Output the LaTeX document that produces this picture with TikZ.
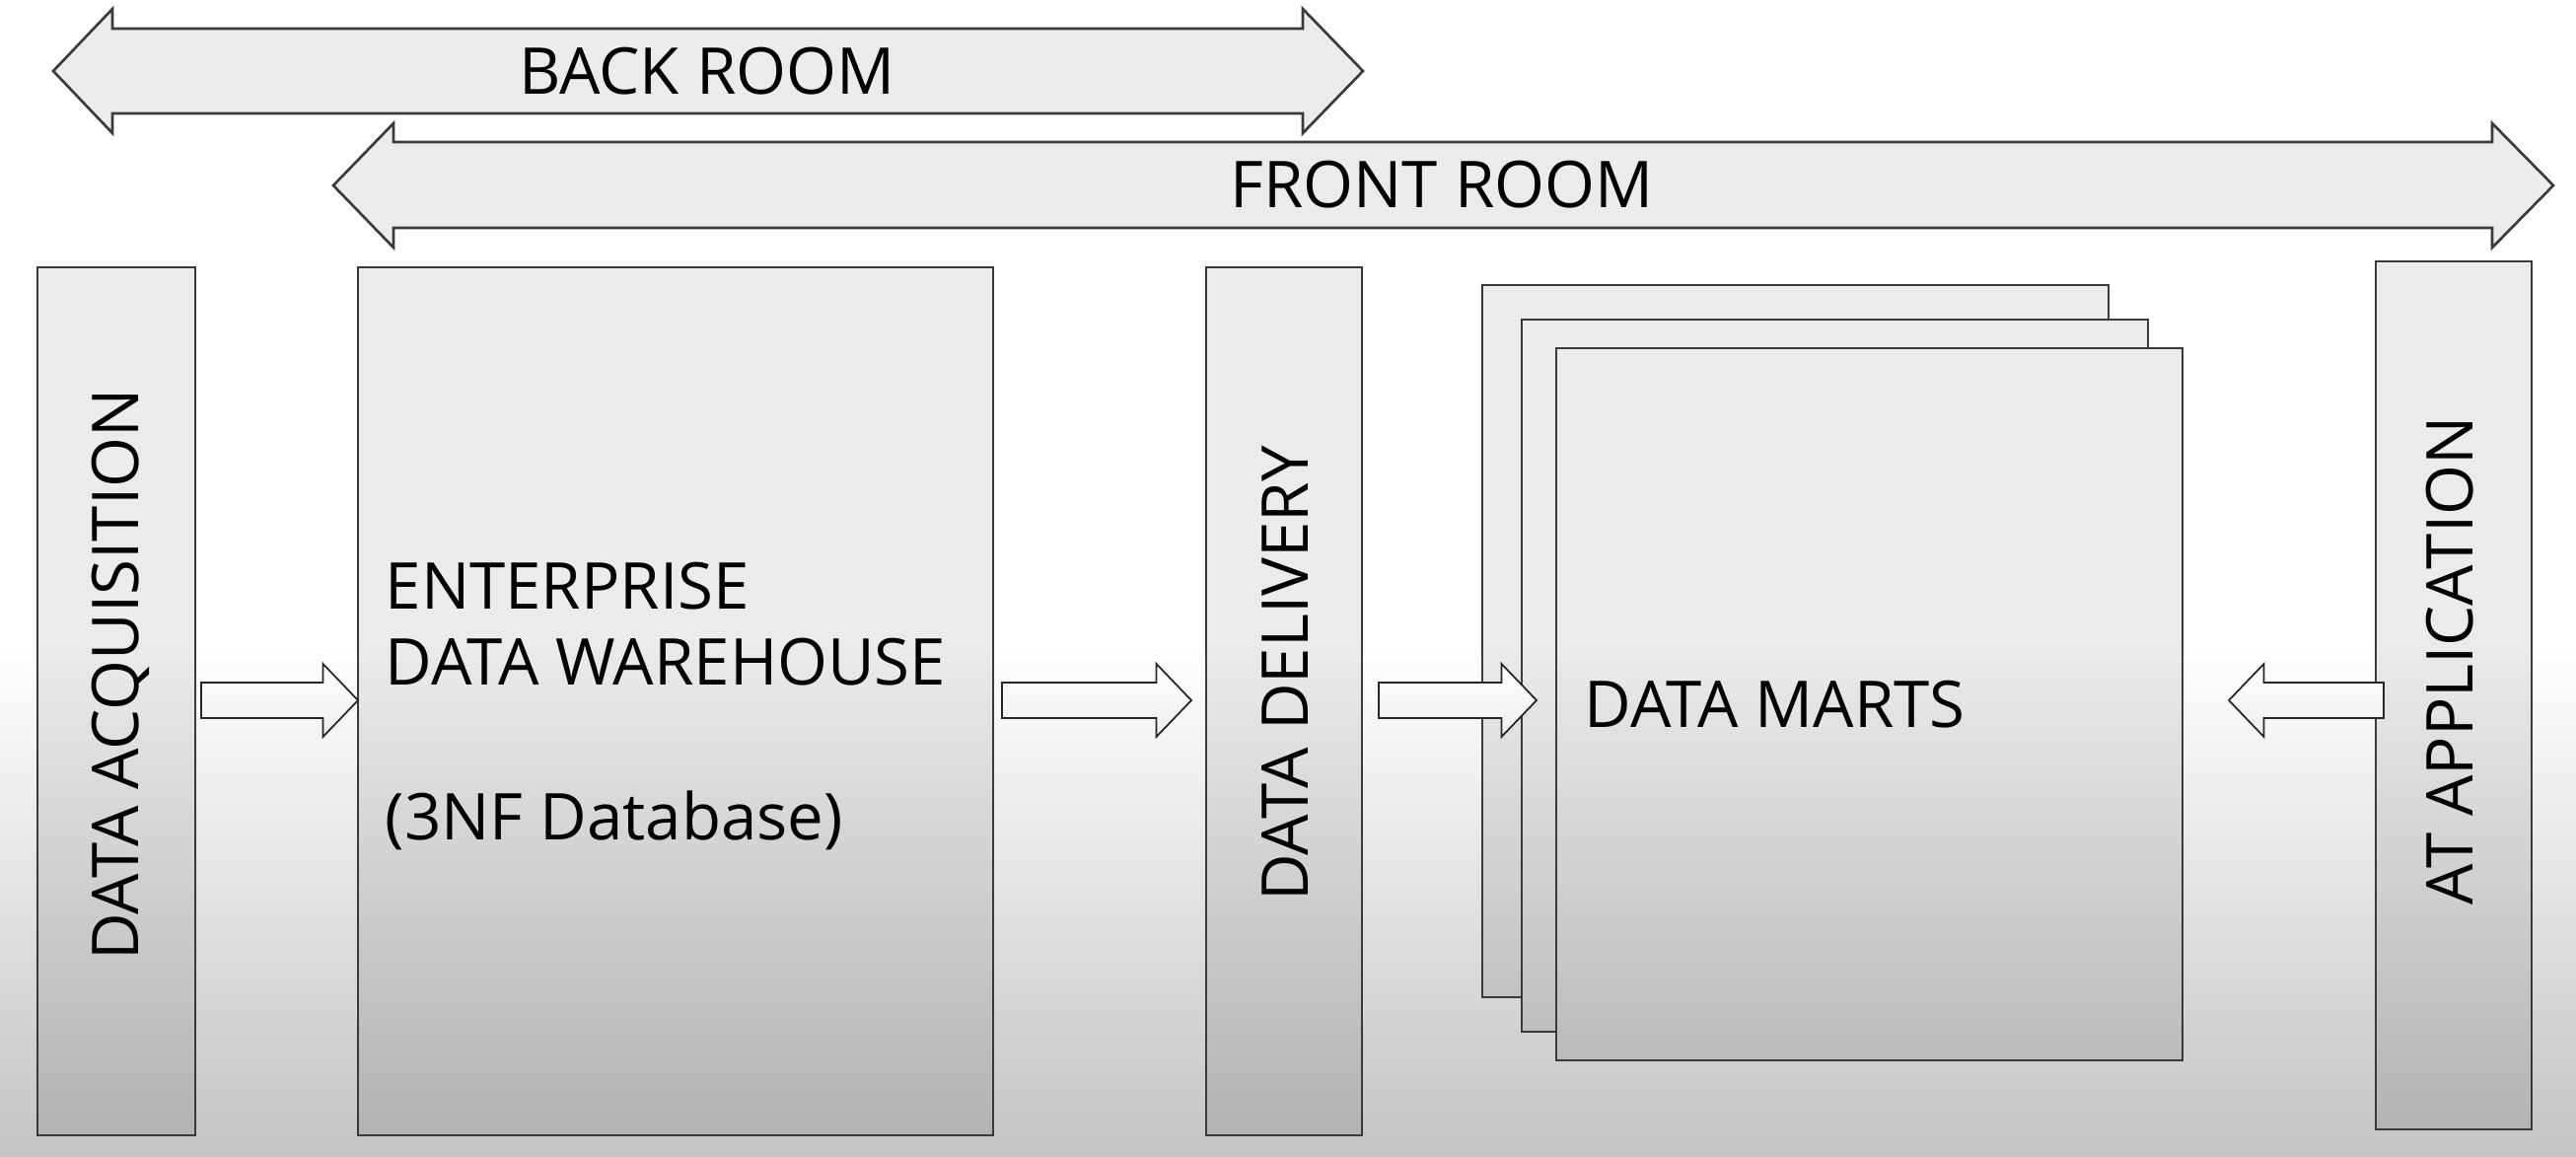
\documentclass[tikz,border=0pt]{standalone}
\usepackage{fontspec}
\setmainfont{Open Sans}
\usetikzlibrary{calc,fit}
\definecolor{boxtopc}{HTML}{EBEBEB}
\definecolor{boxbotc}{HTML}{B0B0B0}
\definecolor{bgbotc}{HTML}{C4C4C4}
\definecolor{linec}{HTML}{3A3A3A}
\definecolor{arrowbot}{HTML}{EEEEEE}
\newcommand\BAs{5.12pt}
\newcommand\BAh{10.53pt}
\newcommand\BAl{10.1pt}
% block arrow connector from #1 (tail) to #2 (tip), horizontal at the tail's height
\newcommand\blockarrow[2]{%
  \draw[barrow] let \p1=(#1), \p2=(#2), \n1={ifthenelse(\x2>\x1,1,-1)} in
    (\x1,{\y1+\BAs}) -- ({\x2-(\n1)*\BAl},{\y1+\BAs}) -- ({\x2-(\n1)*\BAl},{\y1+\BAh})
    -- (\x2,\y1) -- ({\x2-(\n1)*\BAl},{\y1-\BAh}) -- ({\x2-(\n1)*\BAl},{\y1-\BAs})
    -- (\x1,{\y1-\BAs}) -- cycle;}
% gradient fill of a box, tied to absolute height
\newcommand\shadedrect[4]{%
  \begin{scope}
    \clip (#1,#2) rectangle (#3,#4);
    \fill[boxtopc] (#1,#2) rectangle (#3,651);
    \fill[top color=boxtopc, bottom color=boxbotc] (#1,650) rectangle (#3,1172);
  \end{scope}}
\begin{document}
\begin{tikzpicture}[x=0.01cm,y=-0.01cm,
  boxline/.style={draw=linec, line width=0.75pt, inner sep=0pt, outer sep=0pt},
  barrow/.style={draw=black!85, line width=0.5pt, top color=white, bottom color=arrowbot},
  bigarrow/.style={draw=linec, line width=0.75pt, fill=boxtopc},
  lbl/.style={font=\fontsize{18.6pt}{22pt}\selectfont, inner sep=0pt, text=black}]
\useasboundingbox (0,0) rectangle (2612,1172);
% background
\fill[white] (0,0) rectangle (2612,651);
\fill[top color=white, bottom color=bgbotc] (0,650) rectangle (2612,1172);
% room arrows
\draw[bigarrow] (54,72) -- (114,9) -- (114,29) -- (1321,29) -- (1321,9) -- (1382,72)
  -- (1321,135) -- (1321,115) -- (114,115) -- (114,135) -- cycle;
\node[lbl, anchor=base] (backroom) at (717,95) {BACK ROOM};
\draw[bigarrow] (338,188) -- (399,125) -- (399,144) -- (2527,144) -- (2527,125) -- (2589,188)
  -- (2527,251) -- (2527,231) -- (399,231) -- (399,251) -- cycle;
\node[lbl, anchor=base] (frontroom) at (1462,210) {FRONT ROOM};
% data acquisition
\shadedrect{38}{271}{198}{1151}
\node[boxline, fit={(38,271) (198,1151)}] (da) {};
\node[lbl, rotate=90, anchor=base] (daT) at (140,684) {DATA ACQUISITION};
% enterprise data warehouse
\shadedrect{363}{271}{1007}{1151}
\node[boxline, fit={(363,271) (1007,1151)}] (edw) {};
\node[lbl, anchor=base west] (edw1) at (390,617) {ENTERPRISE};
\node[lbl, anchor=base west] (edw2) at (390,694) {DATA WAREHOUSE};
\node[lbl, anchor=base west] (edw3) at (390,851) {(3NF Database)};
% data delivery
\shadedrect{1223}{271}{1381}{1151}
\node[boxline, fit={(1223,271) (1381,1151)}] (dd) {};
\node[lbl, rotate=90, anchor=base] (ddT) at (1326,683) {DATA DELIVERY};
% data marts (stack)
\shadedrect{1503}{289}{2138}{1011}
\node[boxline, fit={(1503,289) (2138,1011)}] (dm1) {};
\shadedrect{1543}{324}{2178}{1046}
\node[boxline, fit={(1543,324) (2178,1046)}] (dm2) {};
\shadedrect{1578}{353}{2213}{1075}
\node[boxline, fit={(1578,353) (2213,1075)}] (dm3) {};
\node[lbl, anchor=base west] (dmT) at (1606,737) {DATA MARTS};
% at application
\shadedrect{2409}{265}{2567}{1145}
\node[boxline, fit={(2409,265) (2567,1145)}] (at) {};
\node[lbl, rotate=90, anchor=base] (atT) at (2507,670) {AT APPLICATION};
% connectors
\blockarrow{$(da.east)+(6,-1)$}{$(edw.west)+(0,-1)$}
\blockarrow{$(edw.east)+(9,-1)$}{$(dd.west)+(-15,-1)$}
\blockarrow{$(dd.east)+(17,-1)$}{$(dm3.west)+(-20,-4)$}
\blockarrow{$(at.west)+(8,5)$}{$(dm3.east)+(47,-4)$}
\end{tikzpicture}
\end{document}
